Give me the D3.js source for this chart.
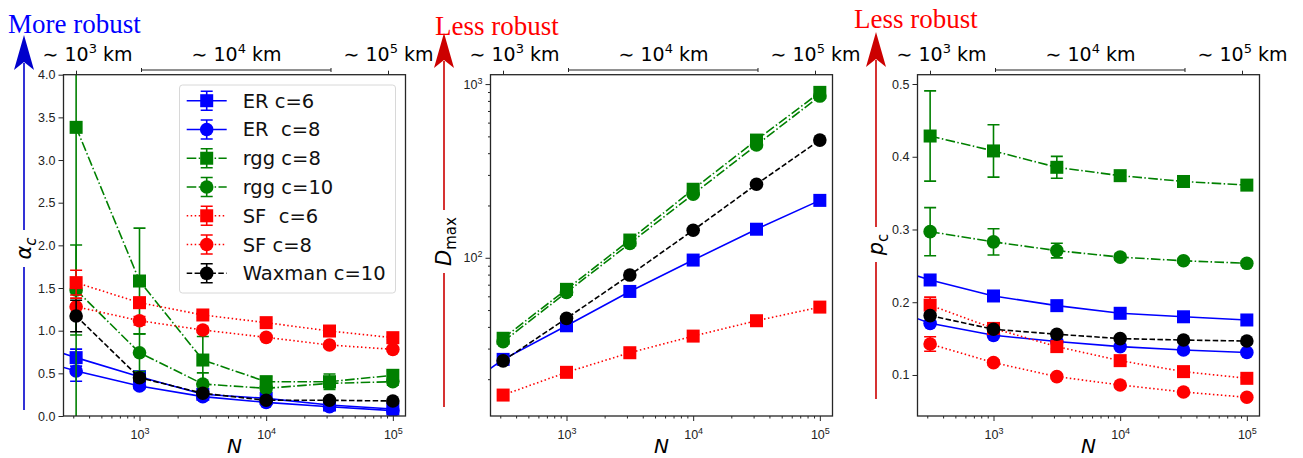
<!DOCTYPE html>
<html>
<head>
<meta charset="utf-8">
<script src="https://cdn.jsdelivr.net/npm/d3@7"></script>
<style>
  body { margin: 0; background: #fff; }
  svg { font-family: "DejaVu Sans", sans-serif; }
</style>
</head>
<body>
<div id="chart"></div>
<script>
// network sizes (the first one only exists for ER, it sits left of the axes and is clipped)
const sizes = [100, 316, 1000, 3162, 10000, 31623, 100000];

const seriesNames = ["ER c=6", "ER  c=8", "rgg c=8", "rgg c=10", "SF  c=6", "SF c=8", "Waxman c=10"];

// alpha_c
const alphaER6 = [0.93, 0.684, 0.461, 0.254, 0.207, 0.129, 0.082];
const alphaER8 = [0.74, 0.527, 0.352, 0.227, 0.160, 0.109, 0.063];
const alphaRgg8 = [null, 3.383, 1.582, 0.656, 0.402, 0.402, 0.477];
const alphaRgg10 = [null, 1.477, 0.742, 0.375, 0.324, 0.383, 0.402];
const alphaSF6 = [null, 1.563, 1.328, 1.184, 1.094, 0.996, 0.918];
const alphaSF8 = [null, 1.281, 1.117, 1.008, 0.922, 0.832, 0.781];
const alphaWax = [null, 1.172, 0.449, 0.266, 0.184, 0.184, 0.176];

const alphaErrER6 = [0, 0.10, 0.04, 0.02, 0.02, 0.02, 0.02];
const alphaErrER8 = [0, 0.12, 0.03, 0.02, 0.02, 0.02, 0.02];
const alphaErrRgg8 = [0, 3.5, 0.62, 0.275, 0.06, 0.09, 0.05];
const alphaErrRgg10 = [0, 0.527, 0.22, 0.13, 0.04, 0.05, 0.04];
const alphaErrSF6 = [0, 0.145, 0.06, 0.03, 0.03, 0.02, 0.02];
const alphaErrSF8 = [0, 0.10, 0.05, 0.03, 0.02, 0.02, 0.02];
const alphaErrWax = [0, 0.185, 0.04, 0.02, 0.01, 0.01, 0.01];

// D_max (no ER c=8 and SF c=8 here)
const dmaxER6 = [14.3, 26, 40.6, 64, 97, 146, 214];
const dmaxRgg8 = [null, 34.4, 65.8, 126.5, 248, 476, 896];
const dmaxRgg10 = [null, 32.9, 63.2, 121, 232, 446, 853];
const dmaxSF6 = [null, 16.2, 21.9, 28.4, 35.4, 43.4, 52];
const dmaxWax = [null, 25.5, 44.8, 79.5, 144, 265, 476];

// p_c
const pcER6 = [0.258, 0.2306, 0.2086, 0.1953, 0.1848, 0.180, 0.1756];
const pcER8 = [0.203, 0.171, 0.1545, 0.146, 0.139, 0.1344, 0.131];
const pcRgg8 = [null, 0.4285, 0.408, 0.3855, 0.374, 0.366, 0.361];
const pcRgg10 = [null, 0.297, 0.283, 0.271, 0.262, 0.257, 0.2535];
const pcSF6 = [null, 0.196, 0.164, 0.139, 0.1197, 0.1046, 0.0954];
const pcSF8 = [null, 0.1426, 0.117, 0.0977, 0.0863, 0.0766, 0.0693];
const pcWax = [null, 0.1816, 0.1628, 0.156, 0.150, 0.148, 0.1467];

const pcErrRgg8 = [0, 0.062, 0.036, 0.015, 0.005, 0.004, 0.004];
const pcErrRgg10 = [0, 0.033, 0.018, 0.010, 0.004, 0.003, 0.003];
const pcErrSF6 = [0, 0.011, 0.004, 0.003, 0.002, 0.002, 0.002];
const pcErrSF8 = [0, 0.010, 0.004, 0.003, 0.002, 0.002, 0.002];

const alphaTicks = [0, 0.5, 1, 1.5, 2, 2.5, 3, 3.5, 4];
const pcTicks = [0.1, 0.2, 0.3, 0.4, 0.5];
const dmaxTicks = [100, 1000];
const nTicks = [1000, 10000, 100000];
const topLabels = ["3", "4", "5"]; // exponents of ~10^k km

// styles per series (same order as seriesNames)
const styles = [
  { color: "#0000ff", dash: null, marker: "square" },
  { color: "#0000ff", dash: null, marker: "circle" },
  { color: "#008000", dash: "9.6,2.4,1.5,2.4", marker: "square" },
  { color: "#008000", dash: "9.6,2.4,1.5,2.4", marker: "circle" },
  { color: "#ff0000", dash: "1.5,2.5", marker: "square" },
  { color: "#ff0000", dash: "1.5,2.5", marker: "circle" },
  { color: "#000000", dash: "5.5,2.4", marker: "circle" }
];

const width = 1303, height = 458;
const plotTop = 74.7, plotBottom = 416, panelW = 342;
const frameColor = "#262626";

const svg = d3.select("#chart")
  .append("svg")
  .attr("width", width)
  .attr("height", height);

function drawMarker(g, kind, cx, cy, color) {
  if (kind === "square") {
    g.append("rect")
      .attr("x", cx - 6.5).attr("y", cy - 6.5)
      .attr("width", 13).attr("height", 13)
      .attr("fill", color);
  } else {
    g.append("circle")
      .attr("cx", cx).attr("cy", cy).attr("r", 6.8)
      .attr("fill", color);
  }
}

function supText(sel, base, exp, size) {
  sel.append("tspan").text(base);
  sel.append("tspan").attr("font-size", size).attr("dy", "-0.55em").text(exp);
}

function panel(cfg, idx) {
  const left = cfg.left;
  const x = d3.scaleLog().domain([10 ** 2.4, 10 ** 5.1]).range([left, left + panelW]);
  const y = cfg.y.range([plotBottom, plotTop]);
  const g = svg.append("g");

  const clipId = "clip" + idx;
  svg.append("clipPath").attr("id", clipId)
    .append("rect")
    .attr("x", left).attr("y", plotTop)
    .attr("width", panelW).attr("height", plotBottom - plotTop);

  // bottom axis, minor ticks then major ticks
  const minorN = [];
  for (let e = 2; e <= 5; e++) for (let m = 2; m <= 9; m++) minorN.push(m * 10 ** e);
  g.append("g")
    .attr("transform", `translate(0,${plotBottom})`)
    .call(d3.axisBottom(x).tickValues(minorN.filter(v => v > x.domain()[0] && v < x.domain()[1]))
      .tickSize(2.5).tickFormat(""))
    .call(a => a.select(".domain").remove())
    .call(a => a.selectAll("line").attr("stroke", frameColor));
  g.append("g")
    .attr("transform", `translate(0,${plotBottom})`)
    .call(d3.axisBottom(x).tickValues(nTicks).tickSize(5).tickPadding(4).tickFormat(""))
    .call(a => a.select(".domain").remove())
    .call(a => a.selectAll("line").attr("stroke", frameColor))
    .call(a => a.selectAll(".tick text")
      .attr("font-size", 12.5).attr("fill", "#222").attr("dy", "1.1em")
      .each(function (d) { supText(d3.select(this), "10", String(Math.round(Math.log10(d))), 9); }));

  // left axis
  if (cfg.log) {
    const minorY = [];
    for (let e = 1; e <= 3; e++) for (let m = 2; m <= 9; m++) minorY.push(m * 10 ** e);
    g.append("g")
      .attr("transform", `translate(${left},0)`)
      .call(d3.axisLeft(y).tickValues(minorY.filter(v => v > y.domain()[0] && v < y.domain()[1]))
        .tickSize(2.5).tickFormat(""))
      .call(a => a.select(".domain").remove())
      .call(a => a.selectAll("line").attr("stroke", frameColor));
    g.append("g")
      .attr("transform", `translate(${left},0)`)
      .call(d3.axisLeft(y).tickValues(cfg.ticks).tickSize(5).tickPadding(3).tickFormat(""))
      .call(a => a.select(".domain").remove())
      .call(a => a.selectAll("line").attr("stroke", frameColor))
      .call(a => a.selectAll(".tick text")
        .attr("font-size", 12.5).attr("fill", "#222")
        .each(function (d) { supText(d3.select(this), "10", String(Math.round(Math.log10(d))), 9); }));
  } else {
    g.append("g")
      .attr("transform", `translate(${left},0)`)
      .call(d3.axisLeft(y).tickValues(cfg.ticks).tickSize(5).tickPadding(3).tickFormat(d3.format(".1f")))
      .call(a => a.select(".domain").remove())
      .call(a => a.selectAll("line").attr("stroke", frameColor))
      .call(a => a.selectAll(".tick text").attr("font-size", 12.5).attr("fill", "#222"));
  }

  // series
  const plot = g.append("g").attr("clip-path", `url(#${clipId})`);
  cfg.series.forEach(s => {
    const st = styles[s.style];
    const pts = sizes.map((n, i) => ({ n, v: s.values[i], e: s.errors ? s.errors[i] : 0 }))
      .filter(p => p.v != null);
    const line = d3.line().x(p => x(p.n)).y(p => y(p.v));
    plot.append("path")
      .attr("d", line(pts))
      .attr("fill", "none")
      .attr("stroke", st.color)
      .attr("stroke-width", 1.6)
      .attr("stroke-dasharray", st.dash);
    pts.filter(p => p.e > 0).forEach(p => {
      const px = x(p.n), y0 = y(p.v - p.e), y1 = y(p.v + p.e);
      plot.append("line").attr("x1", px).attr("x2", px).attr("y1", y0).attr("y2", y1)
        .attr("stroke", st.color).attr("stroke-width", 1.6);
      [y0, y1].forEach(yy => plot.append("line")
        .attr("x1", px - 6).attr("x2", px + 6).attr("y1", yy).attr("y2", yy)
        .attr("stroke", st.color).attr("stroke-width", 1.6));
    });
    pts.forEach(p => drawMarker(plot, st.marker, x(p.n), y(p.v), st.color));
  });

  // frame
  g.append("rect")
    .attr("x", left).attr("y", plotTop)
    .attr("width", panelW).attr("height", plotBottom - plotTop)
    .attr("fill", "none").attr("stroke", frameColor).attr("stroke-width", 1.3);

  // top distance scale
  [13, 325].forEach(off => g.append("line")
    .attr("x1", left + off).attr("x2", left + off)
    .attr("y1", plotTop).attr("y2", plotTop - 4)
    .attr("stroke", frameColor));
  const b0 = left + 78, b1 = left + 267.5;
  g.append("path")
    .attr("d", `M${b0},68 V72 M${b0},70 H${b1} M${b1},68 V72`)
    .attr("fill", "none").attr("stroke", "#222").attr("stroke-width", 1);
  [24, 173, 325].forEach((off, i) => {
    const t = g.append("text")
      .attr("x", left + off).attr("y", 61)
      .attr("text-anchor", "middle")
      .attr("font-size", 19).attr("fill", "#000");
    t.append("tspan").text("∼ 10");
    t.append("tspan").attr("font-size", 13).attr("dy", -8).text(topLabels[i]);
    t.append("tspan").attr("dy", 8).text(" km");
  });

  // x label
  g.append("text")
    .attr("x", left + panelW / 2).attr("y", 453)
    .attr("text-anchor", "middle")
    .attr("font-size", 20).attr("font-style", "italic")
    .text("N");

  // robustness arrow and y label
  const a = cfg.arrow;
  g.append("path")
    .attr("d", `M${a.x},${a.bottom} V${a.gap[1]} M${a.x},${a.gap[0]} V${a.tip + 28}`)
    .attr("stroke", a.color).attr("stroke-width", 1.6).attr("fill", "none");
  g.append("path")
    .attr("d", `M${a.x},${a.tip} L${a.x + 10},${a.tip + 35} L${a.x},${a.tip + 27} L${a.x - 10},${a.tip + 35} Z`)
    .attr("fill", a.color);
  g.append("text")
    .attr("x", a.textX).attr("y", a.textY)
    .attr("font-family", "'Liberation Serif', serif")
    .attr("font-size", 27).attr("fill", a.textColor)
    .text(a.text);

  const yl = g.append("text")
    .attr("transform", `translate(${a.x + 7},${(a.gap[0] + a.gap[1]) / 2}) rotate(-90)`)
    .attr("text-anchor", "middle")
    .attr("font-size", 21);
  cfg.label(yl);
}

const arrowBlue = "#0000cc", arrowRed = "#cc0000";

panel({
  left: 63.5,
  y: d3.scaleLinear().domain([0, 4]),
  ticks: alphaTicks,
  series: [
    { values: alphaER6, errors: alphaErrER6, style: 0 },
    { values: alphaER8, errors: alphaErrER8, style: 1 },
    { values: alphaRgg8, errors: alphaErrRgg8, style: 2 },
    { values: alphaRgg10, errors: alphaErrRgg10, style: 3 },
    { values: alphaSF6, errors: alphaErrSF6, style: 4 },
    { values: alphaSF8, errors: alphaErrSF8, style: 5 },
    { values: alphaWax, errors: alphaErrWax, style: 6 }
  ],
  arrow: { x: 24, tip: 35, bottom: 410, gap: [230, 267], color: arrowBlue,
           text: "More robust", textColor: "#0000ff", textX: 8, textY: 33 },
  label: t => {
    t.append("tspan").attr("font-style", "italic").text("α");
    t.append("tspan").attr("font-style", "italic").attr("font-size", 15).attr("dy", "0.3em").text("c");
  }
}, 0);

panel({
  left: 490.5,
  log: true,
  y: d3.scaleLog().domain([10 ** 1.089, 10 ** 3.054]),
  ticks: dmaxTicks,
  series: [
    { values: dmaxER6, style: 0 },
    { values: dmaxRgg8, style: 2 },
    { values: dmaxRgg10, style: 3 },
    { values: dmaxSF6, style: 4 },
    { values: dmaxWax, style: 6 }
  ],
  arrow: { x: 444, tip: 33, bottom: 407, gap: [210, 273], color: arrowRed,
           text: "Less robust", textColor: "#ff0000", textX: 435, textY: 35 },
  label: t => {
    t.append("tspan").attr("font-style", "italic").text("D");
    t.append("tspan").attr("font-size", 15).attr("dy", "0.3em").text("max");
  }
}, 1);

panel({
  left: 917.5,
  y: d3.scaleLinear().domain([0.0436, 0.5128]),
  ticks: pcTicks,
  series: [
    { values: pcER6, style: 0 },
    { values: pcER8, style: 1 },
    { values: pcRgg8, errors: pcErrRgg8, style: 2 },
    { values: pcRgg10, errors: pcErrRgg10, style: 3 },
    { values: pcSF6, errors: pcErrSF6, style: 4 },
    { values: pcSF8, errors: pcErrSF8, style: 5 },
    { values: pcWax, style: 6 }
  ],
  arrow: { x: 876, tip: 32, bottom: 399, gap: [227, 262], color: arrowRed,
           text: "Less robust", textColor: "#ff0000", textX: 854, textY: 28 },
  label: t => {
    t.append("tspan").attr("font-style", "italic").text("p");
    t.append("tspan").attr("font-size", 15).attr("dy", "0.3em").text("c");
  }
}, 2);

// legend in the first panel
const legend = svg.append("g");
legend.append("rect")
  .attr("x", 179.5).attr("y", 85)
  .attr("width", 216).attr("height", 208)
  .attr("rx", 3)
  .attr("fill", "#fff").attr("fill-opacity", 0.8)
  .attr("stroke", "#d8d8d8");
seriesNames.forEach((name, i) => {
  const st = styles[i];
  const cy = 100.7 + i * 28.77;
  const row = legend.append("g");
  row.append("line")
    .attr("x1", 186.7).attr("x2", 226.7).attr("y1", cy).attr("y2", cy)
    .attr("stroke", st.color).attr("stroke-width", 1.6)
    .attr("stroke-dasharray", st.dash);
  row.append("path")
    .attr("d", `M206.7,${cy - 9.5} V${cy + 9.5} M200.7,${cy - 9.5} H212.7 M200.7,${cy + 9.5} H212.7`)
    .attr("stroke", st.color).attr("stroke-width", 1.6).attr("fill", "none");
  drawMarker(row, st.marker, 206.7, cy, st.color);
  row.append("text")
    .attr("x", 242.7).attr("y", cy)
    .attr("dy", "0.36em")
    .attr("font-size", 19.5)
    .attr("fill", "#111")
    .style("white-space", "pre")
    .text(name);
});
</script>
</body>
</html>
